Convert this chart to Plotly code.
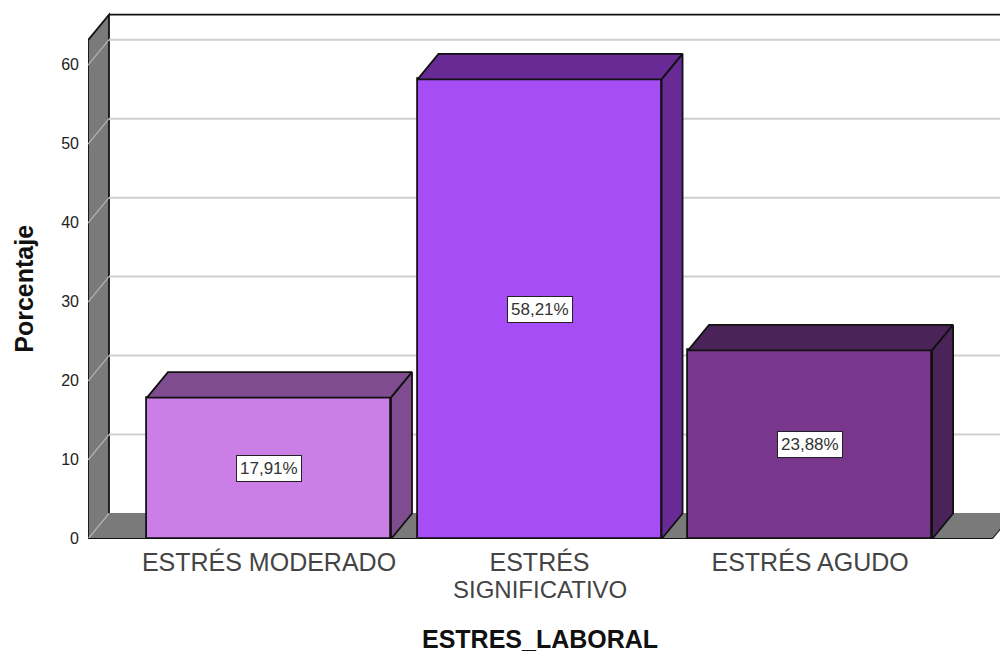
import plotly.graph_objects as go

categories = ["ESTRÉS MODERADO", "ESTRÉS", "ESTRÉS AGUDO"]
second_lines = ["", "SIGNIFICATIVO", ""]
values = [17.91, 58.21, 23.88]
labels = ["17,91%", "58,21%", "23,88%"]
front_colors = ["#CB7FE6", "#A64DF5", "#78368C"]
side_colors = ["#7F4D8F", "#682B96", "#4A2459"]
y_ticks = [0, 10, 20, 30, 40, 50, 60]
grid_values = [10, 20, 30, 40, 50, 60]
x_title = "ESTRES_LABORAL"
y_title = "Porcentaje"

# depth offset of the pseudo-3D projection, in axis units
DX = 0.0776
DY = 3.23
BAR_W = 0.902
X0 = -0.669      # left edge of the floor
X1 = 2.673       # right edge of the floor
WALL_TOP = 63.17  # front top of the left wall
XMAX = 2.702
YMAX = 67.5
WALL = "#7A7A7A"
INK = "#111111"
LW = 1.8

x_pos = list(range(len(categories)))


def poly(xs, ys, fill, line=INK, width=LW, closed=True):
    path = "M " + " L ".join(f"{a},{b}" for a, b in zip(xs, ys)) + (" Z" if closed else "")
    return dict(type="path", path=path, xref="x", yref="y", layer="below",
                fillcolor=fill, line=dict(color=line, width=width))


def seg(x0, y0, x1, y1, color, width):
    return dict(type="line", xref="x", yref="y", layer="below", x0=x0, x1=x1, y0=y0, y1=y1,
                line=dict(color=color, width=width))


shapes = [
    # left wall: outlined on three sides
    poly([X0, X0, X0 + DX, X0 + DX], [0, WALL_TOP, WALL_TOP + DY, DY], WALL, closed=False),
    # floor
    poly([X0, X1, X1 + DX, X0 + DX], [0, 0, DY, DY], WALL, line=WALL, width=1),
    seg(X0, 0, X0 + DX, DY, "#B5B5B5", 1.2),
    seg(X1, 0, X1 + DX, DY, "#333333", 1.2),
]
for g in grid_values:
    shapes.append(seg(X0 + DX, g + DY, XMAX + DX, g + DY, "#CFCFCF", 2))
    shapes.append(seg(X0, g, X0 + DX, g + DY, "#B5B5B5", 1.2))
shapes.append(seg(X0 + DX, WALL_TOP + DY, XMAX + DX, WALL_TOP + DY, INK, LW))
shapes.append(seg(X0, 0, X1, 0, INK, 2))

fig = go.Figure()
fig.add_trace(go.Bar(x=x_pos, y=values, width=BAR_W,
                     marker=dict(color=front_colors, line=dict(color=INK, width=LW)),
                     showlegend=False, hoverinfo="skip"))

for x, v, side in zip(x_pos, values, side_colors):
    l, r = x - BAR_W / 2, x + BAR_W / 2
    fig.add_trace(go.Scatter(x=[l, r, r + DX, l + DX, l], y=[v, v, v + DY, v + DY, v], mode="lines", fill="toself",
                             fillcolor=side, line=dict(color=INK, width=LW), showlegend=False, hoverinfo="skip"))
    fig.add_trace(go.Scatter(x=[r, r + DX, r + DX, r, r], y=[0, DY, v + DY, v, 0], mode="lines", fill="toself",
                             fillcolor=side, line=dict(color=INK, width=LW), showlegend=False, hoverinfo="skip"))

annotations = [
    dict(x=x, y=v / 2, text=t, showarrow=False, bgcolor="#FFFFFF", bordercolor="#222222", borderwidth=1, borderpad=3,
         font=dict(family="Liberation Sans", size=17, color="#333333"))
    for x, v, t in zip(x_pos, values, labels)
]
for x, t in zip(x_pos, second_lines):
    if t:
        annotations.append(dict(x=x, y=0, yref="y", text=t, showarrow=False, yanchor="middle", yshift=-50.5,
                                font=dict(family="Liberation Sans", size=24, color="#444444")))
# axis titles, placed off the plot centre as in the reference
annotations.append(dict(xref="paper", yref="paper", x=(540 - 88) / 912, y=(653 - 640 - 113.5) / 533.5,
                        text=f"<b>{x_title}</b>", showarrow=False, yanchor="middle", xanchor="center",
                        font=dict(family="Liberation Sans", size=25, color="#111111")))
annotations.append(dict(xref="paper", yref="paper", x=(24 - 88) / 912, y=(653 - 289 - 113.5) / 533.5,
                        text=f"<b>{y_title}</b>", textangle=-90, showarrow=False, yanchor="middle", xanchor="center",
                        font=dict(family="Liberation Sans", size=25, color="#111111")))

fig.update_layout(
    width=1000, height=653,
    margin=dict(l=88, r=0, t=6, b=113.5),
    paper_bgcolor="#FFFFFF", plot_bgcolor="#FFFFFF",
    shapes=shapes, annotations=annotations, bargap=0,
    font=dict(family="Liberation Sans"),
    xaxis=dict(range=[X0, XMAX], tickvals=x_pos, ticktext=categories, showgrid=False, zeroline=False, showline=False,
               ticks="", ticklabelstandoff=6, tickfont=dict(size=25, color="#444444")),
    yaxis=dict(range=[0, YMAX], tickvals=y_ticks, showgrid=False, zeroline=False, showline=False,
               ticks="", ticklabelstandoff=8, ticklabelshift=-1, tickfont=dict(size=16, color="#222222")),
)
fig.write_html("out.html", post_script="document.body.style.margin='0';", config={"displayModeBar": False})
